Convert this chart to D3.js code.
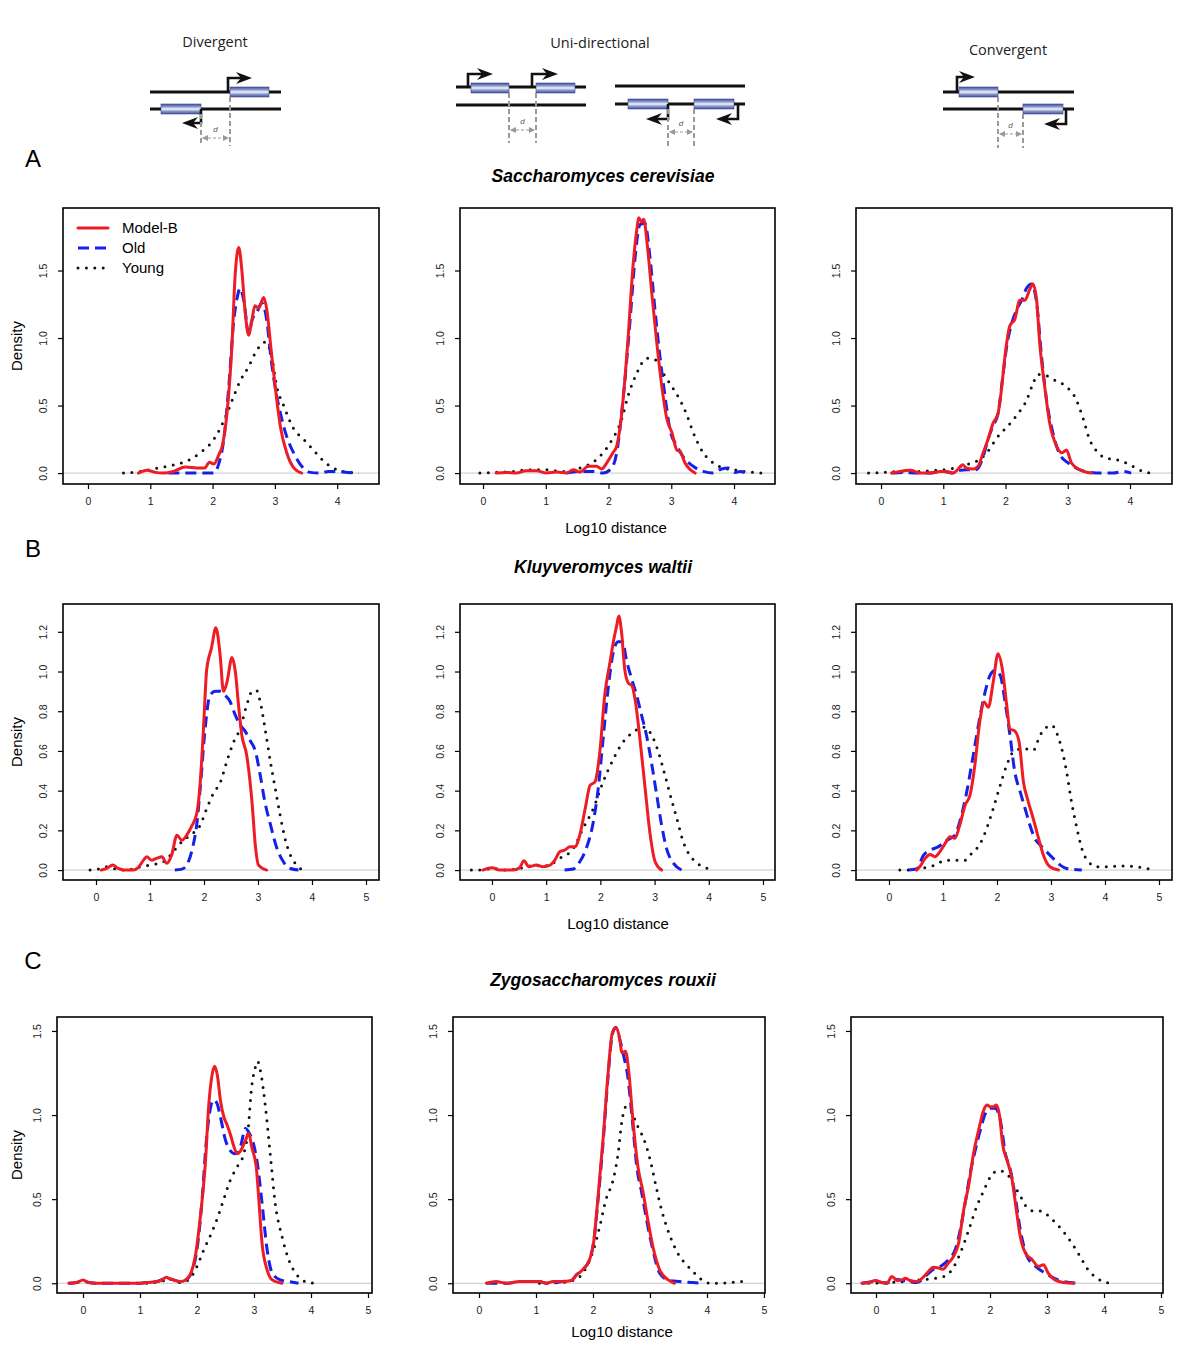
<!DOCTYPE html>
<html><head><meta charset="utf-8">
<script src="https://cdn.jsdelivr.net/npm/d3@7/dist/d3.min.js"></script>
<style>body{margin:0;background:#fff}svg{display:block}</style>
</head><body>
<svg id="c" width="1200" height="1360"></svg>
<script>
// ---------------- DATA ----------------
const categories = ["Divergent", "Uni-directional", "Convergent"];
const species = ["Saccharomyces cerevisiae", "Kluyveromyces waltii", "Zygosaccharomyces rouxii"];
const rowLetters = ["A", "B", "C"];
const seriesNames = ["Model-B", "Old", "Young"];
const xTicksA = [0, 1, 2, 3, 4];
const xTicksBC = [0, 1, 2, 3, 4, 5];
const yTicksA = [0, 0.5, 1.0, 1.5];
const yTicksB = [0, 0.2, 0.4, 0.6, 0.8, 1.0, 1.2];
const yTicksC = [0, 0.5, 1.0, 1.5];

// S. cerevisiae
const scerDivModelB = [[0.81,0],[0.95,0.02],[1.08,0.005],[1.21,0],[1.37,0.012],[1.56,0.044],[1.75,0.037],[1.87,0.037],[1.95,0.08],[2.02,0.067],[2.10,0.135],[2.16,0.21],[2.23,0.44],[2.31,0.94],[2.36,1.45],[2.42,1.67],[2.47,1.50],[2.52,1.21],[2.58,1.02],[2.63,1.13],[2.68,1.24],[2.74,1.22],[2.82,1.30],[2.87,1.21],[2.94,0.91],[3.01,0.62],[3.09,0.34],[3.19,0.15],[3.30,0.04],[3.43,0]];
const scerDivOld = [[1.29,0],[1.6,0],[2.02,0],[2.10,0.07],[2.18,0.25],[2.26,0.64],[2.34,1.13],[2.40,1.31],[2.44,1.37],[2.50,1.28],[2.58,1.03],[2.63,1.13],[2.71,1.19],[2.79,1.26],[2.87,1.13],[2.94,0.84],[3.01,0.62],[3.09,0.44],[3.19,0.27],[3.30,0.15],[3.43,0.05],[3.57,0.005],[3.73,0],[3.86,0.012],[3.99,0.012],[4.16,0.005],[4.34,0]];
const scerDivYoung = [[0.57,0],[0.84,0.012],[1.11,0.037],[1.37,0.06],[1.59,0.09],[1.80,0.15],[2.02,0.25],[2.23,0.44],[2.34,0.57],[2.44,0.68],[2.58,0.79],[2.71,0.91],[2.84,0.97],[2.95,0.86],[3.03,0.64],[3.14,0.50],[3.30,0.33],[3.46,0.25],[3.62,0.17],[3.78,0.09],[3.94,0.037],[4.10,0.012],[4.34,0]];
const scerUniModelB = [[0.21,0],[0.37,0.005],[0.53,0],[0.69,0.017],[0.85,0.017],[1.01,0],[1.17,0.007],[1.33,0],[1.44,0.025],[1.54,0.007],[1.68,0.05],[1.81,0.05],[1.89,0.03],[1.97,0.074],[2.07,0.15],[2.13,0.2],[2.21,0.44],[2.31,0.99],[2.39,1.53],[2.45,1.80],[2.48,1.89],[2.53,1.86],[2.56,1.88],[2.62,1.68],[2.69,1.33],[2.77,0.96],[2.85,0.64],[2.93,0.40],[3.01,0.30],[3.09,0.17],[3.14,0.16],[3.22,0.074],[3.38,0]];
const scerUniOld = [[1.33,0],[1.54,0.012],[1.76,0.012],[1.91,0],[2.05,0.037],[2.13,0.15],[2.23,0.54],[2.34,1.11],[2.42,1.58],[2.50,1.84],[2.58,1.85],[2.66,1.60],[2.74,1.21],[2.82,0.86],[2.90,0.57],[2.98,0.32],[3.09,0.20],[3.19,0.12],[3.35,0.05],[3.51,0.012],[3.67,0],[3.80,0.03],[3.91,0.037],[4.02,0.005],[4.10,0.012],[4.18,0]];
const scerUniYoung = [[-0.05,0],[0.21,0.005],[0.48,0.012],[0.74,0.025],[1.01,0.025],[1.28,0.012],[1.54,0.037],[1.81,0.1],[2.02,0.22],[2.21,0.40],[2.31,0.57],[2.45,0.74],[2.61,0.85],[2.74,0.84],[2.87,0.74],[3.01,0.64],[3.14,0.54],[3.24,0.44],[3.35,0.30],[3.51,0.15],[3.67,0.074],[3.83,0.037],[3.99,0.025],[4.15,0.012],[4.31,0.005],[4.47,0]];
const scerConModelB = [[0.17,0],[0.30,0.012],[0.47,0.02],[0.63,0],[0.79,0],[0.95,0.012],[1.05,0.012],[1.16,0],[1.24,0.03],[1.31,0.062],[1.37,0.037],[1.48,0.03],[1.56,0.05],[1.64,0.15],[1.72,0.25],[1.80,0.37],[1.88,0.44],[1.94,0.64],[1.99,0.86],[2.07,1.09],[2.15,1.14],[2.23,1.28],[2.31,1.28],[2.39,1.36],[2.44,1.40],[2.50,1.28],[2.55,0.96],[2.63,0.64],[2.71,0.37],[2.82,0.20],[2.91,0.15],[2.98,0.17],[3.06,0.074],[3.19,0.025],[3.38,0]];
const scerConOld = [[0.17,0],[0.36,0.005],[0.57,0],[0.79,0],[1.0,0.012],[1.16,0],[1.27,0.02],[1.37,0.025],[1.53,0.025],[1.64,0.12],[1.72,0.25],[1.80,0.35],[1.88,0.44],[1.95,0.69],[2.02,0.94],[2.10,1.11],[2.18,1.21],[2.26,1.28],[2.34,1.37],[2.42,1.40],[2.50,1.26],[2.58,0.86],[2.66,0.54],[2.76,0.30],[2.87,0.14],[3.01,0.074],[3.19,0.025],[3.35,0.005],[3.57,0],[3.73,0],[3.89,0.012],[4.02,0]];
const scerConYoung = [[-0.20,0],[0.06,0.005],[0.33,0.012],[0.60,0.012],[0.87,0.02],[1.11,0.03],[1.37,0.062],[1.53,0.086],[1.70,0.15],[1.86,0.26],[2.04,0.35],[2.20,0.44],[2.34,0.54],[2.44,0.66],[2.52,0.73],[2.66,0.72],[2.82,0.68],[2.98,0.64],[3.14,0.54],[3.25,0.40],[3.35,0.25],[3.49,0.15],[3.62,0.11],[3.78,0.10],[3.94,0.074],[4.10,0.037],[4.21,0.012],[4.37,0]];

// K. waltii
const kwalDivModelB = [[0.10,0],[0.20,0.008],[0.31,0.025],[0.41,0.008],[0.51,0],[0.69,0],[0.78,0.012],[0.88,0.05],[0.94,0.067],[1.03,0.05],[1.12,0.059],[1.22,0.067],[1.31,0.034],[1.40,0.075],[1.50,0.176],[1.59,0.15],[1.68,0.176],[1.77,0.22],[1.87,0.29],[1.93,0.44],[1.99,0.71],[2.05,1.01],[2.14,1.12],[2.22,1.22],[2.30,1.08],[2.36,0.90],[2.42,0.94],[2.52,1.07],[2.58,1.0],[2.64,0.83],[2.70,0.68],[2.79,0.58],[2.89,0.34],[2.95,0.126],[3.01,0.025],[3.16,0]];
const kwalDivOld = [[1.46,0],[1.59,0.005],[1.68,0.025],[1.77,0.092],[1.87,0.24],[1.93,0.41],[2.02,0.71],[2.11,0.88],[2.21,0.90],[2.30,0.90],[2.39,0.88],[2.48,0.85],[2.58,0.78],[2.67,0.73],[2.76,0.70],[2.86,0.65],[2.95,0.60],[3.04,0.48],[3.13,0.34],[3.23,0.23],[3.35,0.11],[3.47,0.042],[3.60,0.008],[3.75,0]];
const kwalDivYoung = [[-0.11,0],[0.04,0.005],[0.20,0.017],[0.38,0.005],[0.57,0],[0.75,0.012],[1.0,0.025],[1.25,0.042],[1.43,0.092],[1.59,0.143],[1.74,0.176],[1.93,0.226],[2.05,0.31],[2.18,0.39],[2.30,0.44],[2.42,0.545],[2.55,0.646],[2.67,0.713],[2.79,0.83],[2.89,0.90],[2.97,0.906],[3.04,0.85],[3.13,0.713],[3.23,0.545],[3.32,0.41],[3.41,0.277],[3.50,0.16],[3.60,0.075],[3.69,0.034],[3.78,0.008],[3.88,0]];
const kwalUniModelB = [[-0.17,0],[0,0.012],[0.14,0],[0.39,0],[0.51,0.012],[0.59,0.047],[0.68,0.017],[0.82,0.025],[0.94,0.017],[1.07,0.025],[1.16,0.05],[1.25,0.092],[1.34,0.10],[1.44,0.117],[1.53,0.117],[1.62,0.176],[1.72,0.31],[1.81,0.427],[1.90,0.444],[1.99,0.595],[2.08,0.88],[2.18,1.05],[2.24,1.15],[2.30,1.23],[2.34,1.28],[2.39,1.20],[2.45,1.01],[2.52,0.94],[2.58,0.93],[2.64,0.86],[2.73,0.66],[2.82,0.427],[2.92,0.176],[3.01,0.042],[3.13,0]];
const kwalUniOld = [[1.34,0],[1.50,0.005],[1.62,0.042],[1.74,0.109],[1.87,0.243],[1.96,0.41],[2.05,0.66],[2.15,0.93],[2.24,1.10],[2.33,1.15],[2.41,1.15],[2.48,1.06],[2.58,0.96],[2.67,0.88],[2.76,0.78],[2.85,0.68],[2.95,0.53],[3.04,0.377],[3.13,0.226],[3.22,0.109],[3.35,0.034],[3.50,0]];
const kwalUniYoung = [[-0.38,0],[-0.23,0],[0.02,0.008],[0.27,0],[0.51,0.008],[0.76,0.022],[1.0,0.022],[1.25,0.059],[1.50,0.109],[1.68,0.21],[1.87,0.31],[2.05,0.444],[2.24,0.56],[2.42,0.645],[2.61,0.695],[2.79,0.72],[2.95,0.678],[3.07,0.595],[3.16,0.51],[3.29,0.377],[3.41,0.26],[3.53,0.142],[3.72,0.05],[3.90,0.017],[4.06,0]];
const kwalConModelB = [[0.51,0],[0.57,0.017],[0.67,0.059],[0.76,0.079],[0.85,0.067],[0.94,0.092],[1.04,0.134],[1.13,0.168],[1.22,0.16],[1.31,0.226],[1.41,0.327],[1.50,0.377],[1.59,0.528],[1.68,0.746],[1.76,0.846],[1.84,0.82],[1.93,0.947],[2.02,1.09],[2.10,1.01],[2.18,0.83],[2.24,0.71],[2.33,0.70],[2.41,0.645],[2.49,0.444],[2.58,0.344],[2.67,0.26],[2.77,0.16],[2.86,0.075],[2.98,0.017],[3.14,0]];
const kwalConOld = [[0.36,0],[0.51,0.005],[0.64,0.075],[0.76,0.10],[0.91,0.117],[1.07,0.15],[1.22,0.176],[1.31,0.243],[1.44,0.394],[1.56,0.578],[1.69,0.78],[1.78,0.897],[1.87,0.98],[1.96,1.005],[2.06,0.98],[2.15,0.846],[2.24,0.68],[2.33,0.494],[2.43,0.394],[2.52,0.31],[2.61,0.226],[2.70,0.16],[2.80,0.126],[2.92,0.092],[3.04,0.059],[3.17,0.025],[3.29,0.008],[3.57,0]];
const kwalConYoung = [[0.20,0],[0.39,0],[0.57,0.008],[0.82,0.022],[1.07,0.05],[1.25,0.05],[1.41,0.05],[1.53,0.084],[1.69,0.134],[1.81,0.21],[1.93,0.31],[2.06,0.427],[2.18,0.528],[2.30,0.595],[2.43,0.61],[2.55,0.61],[2.67,0.603],[2.80,0.68],[2.92,0.72],[3.01,0.73],[3.10,0.695],[3.20,0.61],[3.29,0.494],[3.38,0.344],[3.48,0.21],[3.57,0.109],[3.69,0.042],[3.85,0.017],[4.03,0.017],[4.22,0.02],[4.40,0.02],[4.59,0.017],[4.77,0.008],[4.93,0]];

// Z. rouxii
const zrouDivModelB = [[-0.25,0],[-0.11,0.004],[0,0.02],[0.10,0.004],[0.22,0],[0.60,0],[1.01,0],[1.12,0.004],[1.30,0.01],[1.39,0.02],[1.46,0.036],[1.53,0.024],[1.62,0.016],[1.71,0.01],[1.80,0.02],[1.88,0.05],[1.97,0.16],[2.06,0.40],[2.15,0.73],[2.20,1.03],[2.26,1.23],[2.31,1.29],[2.36,1.23],[2.41,1.09],[2.47,0.99],[2.53,0.94],[2.59,0.88],[2.64,0.82],[2.71,0.77],[2.77,0.79],[2.85,0.85],[2.91,0.89],[2.96,0.81],[3.04,0.69],[3.08,0.52],[3.14,0.24],[3.23,0.08],[3.32,0.02],[3.49,0]];
const zrouDivOld = [[-0.25,0],[-0.11,0.004],[0,0.016],[0.10,0.004],[0.25,0],[1.01,0],[1.12,0.004],[1.30,0.01],[1.47,0.03],[1.59,0.02],[1.71,0.01],[1.82,0.024],[1.91,0.07],[2.0,0.20],[2.09,0.50],[2.16,0.83],[2.22,1.01],[2.29,1.09],[2.35,1.07],[2.41,0.99],[2.50,0.85],[2.58,0.79],[2.67,0.77],[2.76,0.81],[2.85,0.92],[2.92,0.89],[2.99,0.83],[3.06,0.71],[3.14,0.48],[3.23,0.20],[3.32,0.06],[3.46,0.02],[3.61,0.01],[3.78,0]];
const zrouDivYoung = [[1.12,0],[1.35,0.01],[1.53,0.024],[1.71,0.004],[1.85,0.02],[2.0,0.10],[2.12,0.20],[2.23,0.28],[2.35,0.38],[2.47,0.50],[2.58,0.61],[2.70,0.69],[2.82,0.77],[2.89,0.89],[2.96,1.17],[3.02,1.28],[3.06,1.32],[3.12,1.25],[3.20,1.05],[3.29,0.75],[3.37,0.48],[3.49,0.28],[3.61,0.14],[3.75,0.05],[3.90,0.01],[4.05,0]];
const zrouUniModelB = [[0.13,0],[0.30,0.01],[0.48,0],[0.71,0.01],[0.89,0.01],[1.06,0.01],[1.18,0],[1.30,0.01],[1.47,0.01],[1.62,0.016],[1.71,0.05],[1.82,0.08],[1.94,0.14],[2.01,0.24],[2.09,0.52],[2.18,0.87],[2.26,1.23],[2.34,1.49],[2.40,1.52],[2.46,1.47],[2.51,1.37],[2.57,1.38],[2.63,1.25],[2.70,0.97],[2.79,0.69],[2.88,0.54],[2.96,0.38],[3.05,0.22],[3.17,0.08],[3.32,0.02],[3.43,0]];
const zrouUniOld = [[0.13,0],[0.48,0],[0.71,0.01],[1.06,0.01],[1.18,0],[1.47,0.01],[1.62,0.016],[1.71,0.05],[1.82,0.08],[1.94,0.14],[2.01,0.24],[2.09,0.50],[2.18,0.85],[2.26,1.21],[2.34,1.48],[2.40,1.52],[2.47,1.45],[2.54,1.35],[2.61,1.23],[2.69,0.97],[2.77,0.69],[2.86,0.53],[2.95,0.36],[3.05,0.20],[3.17,0.06],[3.34,0.016],[3.52,0.01],[3.75,0.004],[3.93,0]];
const zrouUniYoung = [[1.06,0],[1.42,0.004],[1.65,0.016],[1.82,0.06],[2.01,0.20],[2.12,0.34],[2.23,0.50],[2.35,0.61],[2.44,0.77],[2.51,0.97],[2.58,1.05],[2.67,1.03],[2.76,0.95],[2.85,0.89],[2.94,0.81],[3.02,0.71],[3.11,0.57],[3.20,0.44],[3.29,0.34],[3.40,0.24],[3.52,0.16],[3.67,0.10],[3.81,0.05],[3.93,0.016],[4.05,0],[4.22,0],[4.40,0.004],[4.60,0.01],[4.75,0]];
const zrouConModelB = [[-0.25,0],[-0.13,0.004],[-0.01,0.016],[0.11,0.004],[0.19,0],[0.28,0.04],[0.37,0.016],[0.46,0.02],[0.51,0.03],[0.60,0.016],[0.72,0.01],[0.84,0.04],[0.92,0.07],[1.01,0.095],[1.10,0.09],[1.17,0.083],[1.27,0.12],[1.36,0.16],[1.45,0.24],[1.54,0.44],[1.63,0.59],[1.71,0.77],[1.80,0.91],[1.89,1.03],[1.95,1.06],[2.0,1.05],[2.06,1.05],[2.11,1.06],[2.17,0.99],[2.22,0.83],[2.30,0.73],[2.38,0.63],[2.46,0.44],[2.53,0.28],[2.62,0.18],[2.74,0.14],[2.85,0.10],[2.94,0.11],[3.02,0.06],[3.14,0.02],[3.29,0.004],[3.47,0]];
const zrouConOld = [[-0.25,0],[-0.01,0.01],[0.19,0],[0.31,0.024],[0.49,0.016],[0.72,0.004],[0.89,0.05],[1.01,0.083],[1.13,0.10],[1.27,0.14],[1.39,0.20],[1.48,0.32],[1.57,0.49],[1.65,0.65],[1.74,0.79],[1.83,0.91],[1.92,1.01],[2.0,1.04],[2.09,1.04],[2.18,0.97],[2.27,0.77],[2.36,0.67],[2.44,0.52],[2.53,0.32],[2.65,0.16],[2.80,0.10],[2.97,0.06],[3.12,0.03],[3.29,0.01],[3.58,0]];
const zrouConYoung = [[-0.13,0],[0.19,0.004],[0.49,0.01],[0.78,0.02],[1.04,0.03],[1.19,0.04],[1.33,0.08],[1.48,0.18],[1.63,0.32],[1.77,0.46],[1.89,0.55],[2.0,0.63],[2.15,0.67],[2.30,0.65],[2.41,0.59],[2.53,0.52],[2.65,0.45],[2.77,0.43],[2.88,0.43],[3.03,0.40],[3.12,0.37],[3.23,0.33],[3.35,0.28],[3.47,0.22],[3.58,0.16],[3.70,0.09],[3.88,0.03],[4.05,0.004],[4.20,0]];

const rowSeries = [
  [[scerDivModelB, scerDivOld, scerDivYoung], [scerUniModelB, scerUniOld, scerUniYoung], [scerConModelB, scerConOld, scerConYoung]],
  [[kwalDivModelB, kwalDivOld, kwalDivYoung], [kwalUniModelB, kwalUniOld, kwalUniYoung], [kwalConModelB, kwalConOld, kwalConYoung]],
  [[zrouDivModelB, zrouDivOld, zrouDivYoung], [zrouUniModelB, zrouUniOld, zrouUniYoung], [zrouConModelB, zrouConOld, zrouConYoung]]
];
const rowXTicks = [xTicksA, xTicksBC, xTicksBC];
const rowYTicks = [yTicksA, yTicksB, yTicksC];

// ---------------- LAYOUT (pixels / scale extents) ----------------
const rowBox = [{top: 208, bottom: 484}, {top: 604, bottom: 880}, {top: 1017, bottom: 1293}];
const colBox = [
  [[63, 379], [460, 775], [856, 1172]],
  [[63, 379], [460, 775], [856, 1172]],
  [[57, 372], [453, 765], [851, 1163]]
];
const xDomains = [
  [[-0.401, 4.671], [-0.367, 4.653], [-0.402, 4.675]],
  [[-0.611, 5.241], [-0.590, 5.222], [-0.611, 5.241]],
  [[-0.456, 5.070], [-0.456, 5.018], [-0.439, 5.035]]
];
const yDomains = [[-0.081, 1.963], [-0.050, 1.340], [-0.058, 1.583]];
const rowLetterY = [158, 548, 960];
const rowTitleY = [176, 567, 980];
const xLabelPos = [[616, 528], [618, 924], [622, 1332]];

const seriesStyle = [
  {color: "#ee1c24", dash: null, width: 3, cap: "round"},
  {color: "#1520e8", dash: "11,6", width: 3, cap: "butt"},
  {color: "#111", dash: "0,8.4", width: 3, cap: "round"}
];

const FONT = "'Liberation Sans', Arial, Helvetica, sans-serif";
const svg = d3.select("#c");

// ---------------- PANELS ----------------
for (let r = 0; r < 3; r++) {
  svg.append("text").attr("x", 33).attr("y", rowLetterY[r]).attr("dy", "0.36em")
    .attr("text-anchor", "middle").attr("font-family", FONT).attr("font-size", 24).text(rowLetters[r]);
  svg.append("text").attr("x", 603).attr("y", rowTitleY[r]).attr("dy", "0.36em")
    .attr("text-anchor", "middle").attr("font-family", FONT).attr("font-size", 17.5)
    .attr("font-weight", "bold").attr("font-style", "italic").text(species[r]);

  for (let c = 0; c < 3; c++) {
    const [x0, x1] = colBox[r][c];
    const {top, bottom} = rowBox[r];
    const x = d3.scaleLinear().domain(xDomains[r][c]).range([x0, x1]);
    const y = d3.scaleLinear().domain(yDomains[r]).range([bottom, top]);
    const g = svg.append("g");

    // zero reference line
    g.append("line").attr("x1", x0).attr("x2", x1).attr("y1", y(0)).attr("y2", y(0))
      .attr("stroke", "#c8c8c8").attr("stroke-width", 1);

    // curves
    const clipId = `clip${r}${c}`;
    g.append("clipPath").attr("id", clipId).append("rect")
      .attr("x", x0).attr("y", top).attr("width", x1 - x0).attr("height", bottom - top);
    const line = d3.line().x(d => x(d[0])).y(d => y(Math.max(0, d[1]))).curve(d3.curveMonotoneX);
    [2, 1, 0].forEach(si => {
      const st = seriesStyle[si];
      g.append("path").attr("clip-path", `url(#${clipId})`)
        .attr("d", line(rowSeries[r][c][si]))
        .attr("fill", "none").attr("stroke", st.color).attr("stroke-width", st.width)
        .attr("stroke-linecap", st.cap).attr("stroke-linejoin", "round")
        .attr("stroke-dasharray", st.dash);
    });

    // axes
    const xa = d3.axisBottom(x).tickValues(rowXTicks[r]).tickSize(5).tickPadding(9).tickFormat(d3.format("d"));
    const ag = g.append("g").attr("transform", `translate(0,${bottom})`).call(xa);
    ag.select(".domain").remove();
    ag.selectAll("line").attr("stroke", "#000").attr("stroke-width", 1.2);
    ag.selectAll("text").attr("font-family", FONT).attr("font-size", 10.5).attr("fill", "#222");

    const ya = d3.axisLeft(y).tickValues(rowYTicks[r]).tickSize(5).tickFormat(d3.format(".1f"));
    const yg = g.append("g").attr("transform", `translate(${x0},0)`).call(ya);
    yg.select(".domain").remove();
    yg.selectAll("line").attr("stroke", "#000").attr("stroke-width", 1.2);
    yg.selectAll("text").attr("font-family", FONT).attr("font-size", 10.5).attr("fill", "#222")
      .attr("text-anchor", "middle").attr("x", null).attr("dy", null)
      .attr("transform", "translate(-20,0) rotate(-90)").attr("dy", "0.35em");

    // box
    g.append("rect").attr("x", x0).attr("y", top).attr("width", x1 - x0).attr("height", bottom - top)
      .attr("fill", "none").attr("stroke", "#000").attr("stroke-width", 1.6);

    if (c === 0) {
      svg.append("text").attr("transform", `translate(17,${(top + bottom) / 2}) rotate(-90)`)
        .attr("dy", "0.35em").attr("text-anchor", "middle").attr("font-family", FONT)
        .attr("font-size", 15).text("Density");
    }
    if (c === 1) {
      svg.append("text").attr("x", xLabelPos[r][0]).attr("y", xLabelPos[r][1]).attr("dy", "0.36em")
        .attr("text-anchor", "middle").attr("font-family", FONT).attr("font-size", 15).text("Log10 distance");
    }
    if (r === 0 && c === 0) {
      const lg = svg.append("g");
      seriesNames.forEach((nm, i) => {
        const st = seriesStyle[i];
        const ly = 228 + i * 20;
        lg.append("line").attr("x1", 78).attr("x2", 108).attr("y1", ly).attr("y2", ly)
          .attr("stroke", st.color).attr("stroke-width", st.width).attr("stroke-linecap", st.cap)
          .attr("stroke-dasharray", st.dash);
        lg.append("text").attr("x", 122).attr("y", ly).attr("dy", "0.36em")
          .attr("font-family", FONT).attr("font-size", 15).text(nm);
      });
    }
  }
}

// ---------------- SCHEMATICS ----------------
const defs = svg.append("defs");
const grad = defs.append("linearGradient").attr("id", "gene").attr("x1", 0).attr("x2", 0).attr("y1", 0).attr("y2", 1);
grad.append("stop").attr("offset", "0%").attr("stop-color", "#44539a");
grad.append("stop").attr("offset", "25%").attr("stop-color", "#8190c8");
grad.append("stop").attr("offset", "50%").attr("stop-color", "#f2f5fc");
grad.append("stop").attr("offset", "75%").attr("stop-color", "#8190c8");
grad.append("stop").attr("offset", "100%").attr("stop-color", "#44539a");
const dm = defs.append("marker").attr("id", "dh").attr("viewBox", "0 0 6 6").attr("refX", 5).attr("refY", 3)
  .attr("markerWidth", 5).attr("markerHeight", 5).attr("orient", "auto-start-reverse");
dm.append("path").attr("d", "M0,0 L6,3 L0,6 z").attr("fill", "#999");

const sch = svg.append("g");
function strand(xa, xb, yy) {
  sch.append("line").attr("x1", xa).attr("x2", xb).attr("y1", yy).attr("y2", yy)
    .attr("stroke", "#111").attr("stroke-width", 3.2);
}
function gene(xa, xb, yc) {
  sch.append("rect").attr("x", xa).attr("y", yc - 5).attr("width", xb - xa).attr("height", 10)
    .attr("fill", "url(#gene)").attr("stroke", "#3d4a8a").attr("stroke-width", 0.6);
}
function promoter(xs, ys, ye, xe) {
  const dir = xe > xs ? 1 : -1;
  sch.append("path").attr("d", `M${xs},${ys} V${ye} H${xe - dir * 9}`)
    .attr("fill", "none").attr("stroke", "#111").attr("stroke-width", 2.6);
  sch.append("path").attr("d", `M${xe},${ye} L${xe - dir * 16},${ye - 6} L${xe - dir * 11},${ye} L${xe - dir * 16},${ye + 6} Z`)
    .attr("fill", "#111");
}
function distance(xa, xb, ya, yb, yEnd, yArr) {
  [[xa, ya], [xb, yb]].forEach(([xx, yy]) => {
    sch.append("line").attr("x1", xx).attr("x2", xx).attr("y1", yy).attr("y2", yEnd)
      .attr("stroke", "#9a9a9a").attr("stroke-width", 2).attr("stroke-dasharray", "5,3");
  });
  sch.append("line").attr("x1", xa + 2).attr("x2", xb - 2).attr("y1", yArr).attr("y2", yArr)
    .attr("stroke", "#999").attr("stroke-width", 1.2).attr("stroke-dasharray", "3,2")
    .attr("marker-start", "url(#dh)").attr("marker-end", "url(#dh)");
  sch.append("text").attr("x", (xa + xb) / 2).attr("y", yArr - 6).attr("text-anchor", "middle")
    .attr("font-family", FONT).attr("font-style", "italic").attr("font-size", 8).attr("fill", "#555").text("d");
}
const labelX = [215, 600, 1008];
const labelY = [42, 43, 50];
categories.forEach((t, i) => {
  svg.append("text").attr("x", labelX[i]).attr("y", labelY[i]).attr("dy", "0.36em")
    .attr("text-anchor", "middle").attr("font-family", "'Open Sans', 'Noto Sans', sans-serif")
    .attr("font-size", 14.5).attr("fill", "#222").text(t);
});
// Divergent
strand(150, 281, 92); strand(150, 281, 109);
gene(230, 269, 92); gene(161, 201, 109);
promoter(228, 92, 78, 252); promoter(201, 109, 123, 182);
distance(201, 230, 114, 97, 146, 138);
// Uni-directional (left)
strand(456, 586, 87); strand(456, 586, 105);
gene(471, 509, 88); gene(536, 575, 88);
promoter(468, 87, 74, 493); promoter(532, 87, 74, 558);
distance(509, 536, 93, 93, 143, 130);
// Uni-directional (right)
strand(615, 745, 86); strand(615, 745, 104);
gene(628, 668, 104); gene(694, 734, 104);
promoter(668, 104, 119, 646); promoter(738, 104, 119, 716);
distance(668, 694, 109, 109, 146, 132);
// Convergent
strand(943, 1074, 92); strand(943, 1074, 109);
gene(959, 998, 92); gene(1023, 1063, 109);
promoter(957, 92, 77, 975); promoter(1066, 109, 124, 1044);
distance(998, 1023, 97, 114, 148, 134);
</script>
</body></html>
